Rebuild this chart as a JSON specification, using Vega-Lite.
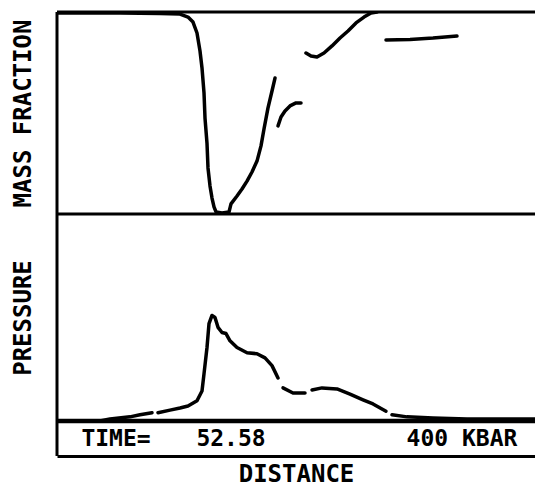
{
  "$schema": "https://vega.github.io/schema/vega-lite/v6.json",
  "padding": {"left": 11, "top": 10, "right": 0, "bottom": 5},
  "background": "white",
  "spacing": 0,
  "bounds": "flush",
  "config": {
    "view": {"stroke": null},
    "axis": {"grid": false, "labels": false, "ticks": false, "domain": false, "titleFont": "DejaVu Sans Mono", "titleFontSize": 24, "titleFontWeight": "bold", "titleColor": "black"}
  },
  "datasets": {
    "mass": [
      {"seg": "A", "distance": 0, "mf": 0.995},
      {"seg": "A", "distance": 63, "mf": 0.995},
      {"seg": "A", "distance": 103, "mf": 0.993},
      {"seg": "A", "distance": 123, "mf": 0.99},
      {"seg": "A", "distance": 131, "mf": 0.975},
      {"seg": "A", "distance": 136, "mf": 0.95},
      {"seg": "A", "distance": 140, "mf": 0.896},
      {"seg": "A", "distance": 143, "mf": 0.807},
      {"seg": "A", "distance": 145, "mf": 0.723},
      {"seg": "A", "distance": 147, "mf": 0.6},
      {"seg": "A", "distance": 148, "mf": 0.475},
      {"seg": "A", "distance": 150, "mf": 0.35},
      {"seg": "A", "distance": 151, "mf": 0.228},
      {"seg": "A", "distance": 153, "mf": 0.139},
      {"seg": "A", "distance": 155, "mf": 0.079},
      {"seg": "A", "distance": 157, "mf": 0.035},
      {"seg": "A", "distance": 159, "mf": 0.01},
      {"seg": "A", "distance": 165, "mf": 0.005},
      {"seg": "A", "distance": 172, "mf": 0.01},
      {"seg": "A", "distance": 174, "mf": 0.05},
      {"seg": "A", "distance": 180, "mf": 0.089},
      {"seg": "A", "distance": 185, "mf": 0.124},
      {"seg": "A", "distance": 190, "mf": 0.163},
      {"seg": "A", "distance": 195, "mf": 0.208},
      {"seg": "A", "distance": 200, "mf": 0.262},
      {"seg": "A", "distance": 204, "mf": 0.337},
      {"seg": "A", "distance": 207, "mf": 0.421},
      {"seg": "A", "distance": 211, "mf": 0.525},
      {"seg": "A", "distance": 215, "mf": 0.609},
      {"seg": "A", "distance": 218, "mf": 0.673},
      {"seg": "B", "distance": 221, "mf": 0.436},
      {"seg": "B", "distance": 224, "mf": 0.48},
      {"seg": "B", "distance": 228, "mf": 0.51},
      {"seg": "B", "distance": 233, "mf": 0.535},
      {"seg": "B", "distance": 239, "mf": 0.55},
      {"seg": "B", "distance": 244, "mf": 0.55},
      {"seg": "C", "distance": 249, "mf": 0.797},
      {"seg": "C", "distance": 254, "mf": 0.782},
      {"seg": "C", "distance": 260, "mf": 0.777},
      {"seg": "C", "distance": 267, "mf": 0.797},
      {"seg": "C", "distance": 275, "mf": 0.832},
      {"seg": "C", "distance": 283, "mf": 0.871},
      {"seg": "C", "distance": 291, "mf": 0.906},
      {"seg": "C", "distance": 299, "mf": 0.946},
      {"seg": "C", "distance": 307, "mf": 0.975},
      {"seg": "C", "distance": 314, "mf": 0.995},
      {"seg": "C", "distance": 320, "mf": 1.0},
      {"seg": "D", "distance": 329, "mf": 0.861},
      {"seg": "D", "distance": 353, "mf": 0.864},
      {"seg": "D", "distance": 376, "mf": 0.871},
      {"seg": "D", "distance": 400, "mf": 0.881}
    ],
    "pressure": [
      {"seg": 1, "distance": 3, "p": 0},
      {"seg": 1, "distance": 33, "p": 0},
      {"seg": 1, "distance": 43, "p": 0},
      {"seg": 1, "distance": 53, "p": 4},
      {"seg": 1, "distance": 73, "p": 8},
      {"seg": 1, "distance": 83, "p": 12},
      {"seg": 1, "distance": 95, "p": 16},
      {"seg": 2, "distance": 101, "p": 16},
      {"seg": 2, "distance": 113, "p": 21},
      {"seg": 2, "distance": 123, "p": 25},
      {"seg": 2, "distance": 131, "p": 29},
      {"seg": 2, "distance": 140, "p": 39},
      {"seg": 2, "distance": 145, "p": 58},
      {"seg": 2, "distance": 147, "p": 91},
      {"seg": 2, "distance": 150, "p": 142},
      {"seg": 2, "distance": 152, "p": 188},
      {"seg": 2, "distance": 155, "p": 204},
      {"seg": 2, "distance": 158, "p": 200},
      {"seg": 2, "distance": 161, "p": 181},
      {"seg": 2, "distance": 165, "p": 171},
      {"seg": 2, "distance": 169, "p": 169},
      {"seg": 2, "distance": 173, "p": 155},
      {"seg": 2, "distance": 180, "p": 142},
      {"seg": 2, "distance": 190, "p": 132},
      {"seg": 2, "distance": 200, "p": 130},
      {"seg": 2, "distance": 208, "p": 122},
      {"seg": 2, "distance": 215, "p": 107},
      {"seg": 2, "distance": 221, "p": 83},
      {"seg": 3, "distance": 226, "p": 64},
      {"seg": 3, "distance": 236, "p": 54},
      {"seg": 3, "distance": 248, "p": 54},
      {"seg": 4, "distance": 255, "p": 60},
      {"seg": 4, "distance": 265, "p": 64},
      {"seg": 4, "distance": 280, "p": 62},
      {"seg": 4, "distance": 293, "p": 52},
      {"seg": 4, "distance": 306, "p": 41},
      {"seg": 4, "distance": 316, "p": 33},
      {"seg": 4, "distance": 329, "p": 19},
      {"seg": 5, "distance": 335, "p": 12},
      {"seg": 5, "distance": 350, "p": 8},
      {"seg": 5, "distance": 376, "p": 6},
      {"seg": 5, "distance": 410, "p": 4},
      {"seg": 5, "distance": 478, "p": 4}
    ],
    "labels": [
      {"label": "TIME=", "distance": 59},
      {"label": "52.58", "distance": 174},
      {"label": "400 KBAR", "distance": 405}
    ]
  },
  "vconcat": [
    {
      "width": 478,
      "height": 202,
      "layer": [
        {
          "data": {"name": "mass"},
          "mark": {"type": "line", "color": "black", "strokeWidth": 3.5, "strokeCap": "round", "strokeJoin": "round", "clip": true},
          "encoding": {
            "x": {"field": "distance", "type": "quantitative", "scale": {"domain": [0, 478], "nice": false, "zero": false}, "axis": null},
            "y": {"field": "mf", "type": "quantitative", "scale": {"domain": [0, 1], "nice": false}, "axis": {"title": "MASS FRACTION", "titlePadding": 22}},
            "detail": {"field": "seg"}
          }
        },
        {
          "data": {"values": [{"mf": 1}, {"mf": 0}]},
          "mark": {"type": "rule", "color": "black", "strokeWidth": 3},
          "encoding": {"y": {"field": "mf", "type": "quantitative"}}
        },
        {
          "data": {"values": [{"distance": 0}]},
          "mark": {"type": "rule", "color": "black", "strokeWidth": 3},
          "encoding": {"x": {"field": "distance", "type": "quantitative"}}
        }
      ]
    },
    {
      "width": 478,
      "height": 207,
      "layer": [
        {
          "data": {"name": "pressure"},
          "mark": {"type": "line", "color": "black", "strokeWidth": 3.5, "strokeCap": "round", "strokeJoin": "round"},
          "encoding": {
            "x": {"field": "distance", "type": "quantitative", "scale": {"domain": [0, 478], "nice": false, "zero": false}, "axis": null},
            "y": {"field": "p", "type": "quantitative", "scale": {"domain": [0, 400], "nice": false}, "axis": {"title": "PRESSURE", "titlePadding": 22}},
            "detail": {"field": "seg"}
          }
        },
        {
          "data": {"values": [{"distance": 0}]},
          "mark": {"type": "rule", "color": "black", "strokeWidth": 3},
          "encoding": {"x": {"field": "distance", "type": "quantitative"}}
        }
      ]
    },
    {
      "width": 478,
      "height": 35,
      "layer": [
        {
          "data": {"name": "labels"},
          "mark": {"type": "text", "font": "DejaVu Sans Mono", "fontSize": 23, "fontWeight": "bold", "color": "black", "align": "center", "baseline": "middle"},
          "encoding": {
            "x": {"field": "distance", "type": "quantitative", "scale": {"domain": [0, 478], "nice": false, "zero": false}, "axis": {"title": "DISTANCE", "domain": true, "domainColor": "black", "domainWidth": 3, "titlePadding": 6}},
            "text": {"field": "label"}
          }
        },
        {
          "data": {"values": [{"level": 1}]},
          "mark": {"type": "rule", "color": "black", "strokeWidth": 4.5},
          "encoding": {"y": {"field": "level", "type": "quantitative", "scale": {"domain": [0, 1], "nice": false}, "axis": null}}
        },
        {
          "data": {"values": [{"distance": 0}]},
          "mark": {"type": "rule", "color": "black", "strokeWidth": 3},
          "encoding": {"x": {"field": "distance", "type": "quantitative"}}
        }
      ]
    }
  ]
}
